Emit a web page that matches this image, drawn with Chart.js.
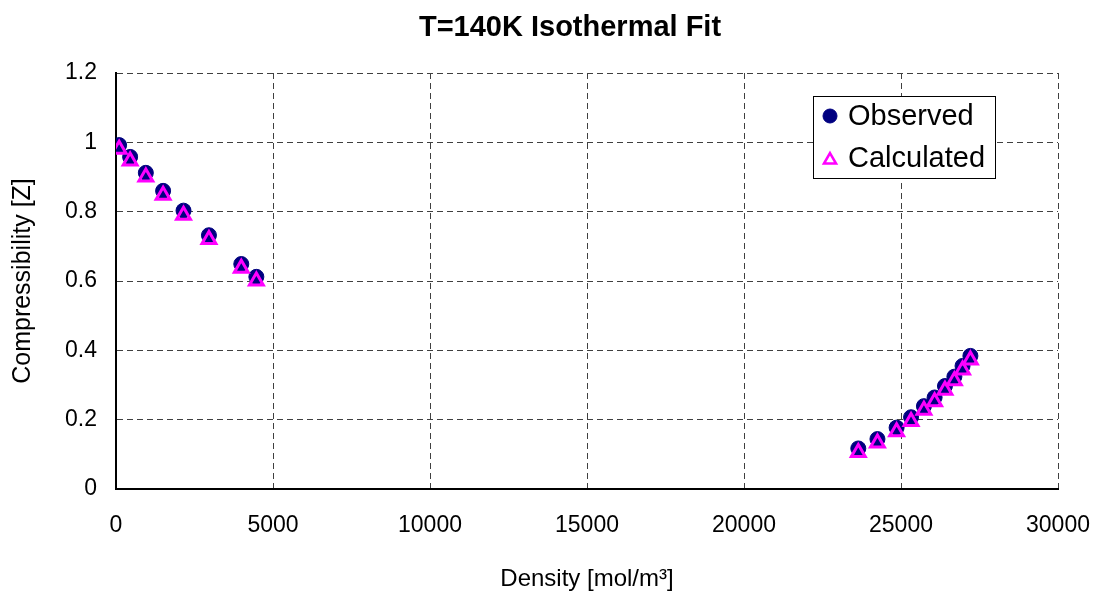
<!DOCTYPE html>
<html>
<head>
<meta charset="utf-8">
<script src="https://cdn.jsdelivr.net/npm/chart.js@4.4.1/dist/chart.umd.min.js"></script>
<style>
  html, body { margin: 0; padding: 0; background: #fff; }
  #wrap { width: 1097px; height: 597px; position: relative; }
</style>
</head>
<body>
<div id="wrap"><canvas id="chart"></canvas></div>
<script>
// Z vs density at T=140K
const density = [100, 450, 950, 1500, 2150, 2960, 3990, 4470,
    23640, 24250, 24860, 25320, 25730, 26070, 26400, 26700, 26960, 27210];
const zObserved = [0.992, 0.958, 0.912, 0.860, 0.803, 0.732, 0.649, 0.612,
    0.117, 0.144, 0.177, 0.207, 0.239, 0.264, 0.297, 0.324, 0.355, 0.384];
const zCalculated = [0.980, 0.946, 0.900, 0.847, 0.790, 0.720, 0.637, 0.600,
    0.105, 0.133, 0.165, 0.195, 0.227, 0.252, 0.285, 0.312, 0.343, 0.372];

const chartTitle = 'T=140K Isothermal Fit';
const xTitle = 'Density [mol/m\u00b3]';
const yTitle = 'Compressibility [Z]';

const FONT = '"Liberation Sans", Arial, sans-serif';
const observedColor = '#000080';
const calcColor = '#ff00ff';
const gridColor = '#404040';

function toPoints(xs, ys) {
    return xs.map((x, i) => ({ x: x, y: ys[i] }));
}

// title centred where the original sits, plus an in-plot legend box
const decorPlugin = {
    id: 'decor',
    afterDraw(chart) {
        const ctx = chart.ctx;
        ctx.save();
        ctx.fillStyle = '#000';
        ctx.font = 'bold 29px ' + FONT;
        ctx.textAlign = 'center';
        ctx.textBaseline = 'middle';
        ctx.fillText(chartTitle, 570, 28);

        // legend
        const bx = 813, by = 96, bw = 182, bh = 82;
        ctx.fillStyle = '#fff';
        ctx.fillRect(bx, by, bw, bh);
        ctx.strokeStyle = '#000';
        ctx.lineWidth = 1;
        ctx.strokeRect(bx + 0.5, by + 0.5, bw, bh);

        ctx.font = '29px ' + FONT;
        ctx.textAlign = 'left';
        chart.data.datasets.forEach((ds, i) => {
            const cy = by + 20 + i * 42;
            const tri = ds.pointStyle === 'triangle';
            ctx.fillStyle = tri ? '#fff' : ds.backgroundColor;
            ctx.strokeStyle = ds.borderColor;
            ctx.lineWidth = tri ? 2.5 : ds.borderWidth;
            Chart.helpers.drawPoint(ctx, {
                pointStyle: ds.pointStyle,
                radius: 7,
                rotation: 0,
                borderWidth: ctx.lineWidth
            }, 830, tri ? cy + 2 : cy);
            ctx.fillStyle = '#000';
            ctx.fillText(ds.label, 848, cy + 1);
        });
        ctx.restore();
    }
};

new Chart(document.getElementById('chart'), {
    type: 'scatter',
    data: {
        datasets: [
            {
                label: 'Observed',
                data: toPoints(density, zObserved),
                pointStyle: 'circle',
                pointRadius: 7.5,
                backgroundColor: observedColor,
                borderColor: observedColor,
                borderWidth: 1,
                order: 2
            },
            {
                label: 'Calculated',
                data: toPoints(density, zCalculated),
                pointStyle: 'triangle',
                pointRadius: 8,
                backgroundColor: 'rgba(0,0,0,0)',
                borderColor: calcColor,
                borderWidth: 3,
                order: 1
            }
        ]
    },
    options: {
        responsive: true,
        maintainAspectRatio: false,
        animation: false,
        layout: { padding: { top: 73, right: 39, left: 0, bottom: 0 } },
        plugins: {
            legend: { display: false },
            title: { display: false },
            tooltip: { enabled: false }
        },
        scales: {
            x: {
                type: 'linear',
                min: 0,
                max: 30000,
                afterFit(scale) {
                    scale.height = 108;
                    scale.paddingLeft = 0;
                    scale.paddingRight = 0;
                },
                ticks: {
                    stepSize: 5000,
                    color: '#000',
                    padding: 23,
                    maxRotation: 0,
                    font: { family: FONT, size: 23 },
                    callback(v) { return String(v); }
                },
                grid: { color: gridColor, lineWidth: 1, drawTicks: false },
                border: { color: '#000', width: 2, dash: [6, 4] },
                title: {
                    display: true,
                    text: xTitle,
                    color: '#000',
                    font: { family: FONT, size: 24 },
                    padding: { top: 0, bottom: 3 }
                }
            },
            y: {
                min: 0,
                max: 1.2,
                afterFit(scale) {
                    scale.width = 116;
                    scale.paddingTop = 0;
                    scale.paddingBottom = 0;
                },
                ticks: {
                    stepSize: 0.2,
                    color: '#000',
                    padding: 19,
                    font: { family: FONT, size: 23 },
                    callback(v) { return String(Number(v.toFixed(1))); }
                },
                grid: { color: gridColor, lineWidth: 1, drawTicks: false },
                border: { color: '#000', width: 2, dash: [6, 4] },
                title: {
                    display: true,
                    text: yTitle,
                    color: '#000',
                    font: { family: FONT, size: 25 },
                    padding: { top: 8, bottom: 0 }
                }
            }
        }
    },
    plugins: [decorPlugin]
});
</script>
</body>
</html>
